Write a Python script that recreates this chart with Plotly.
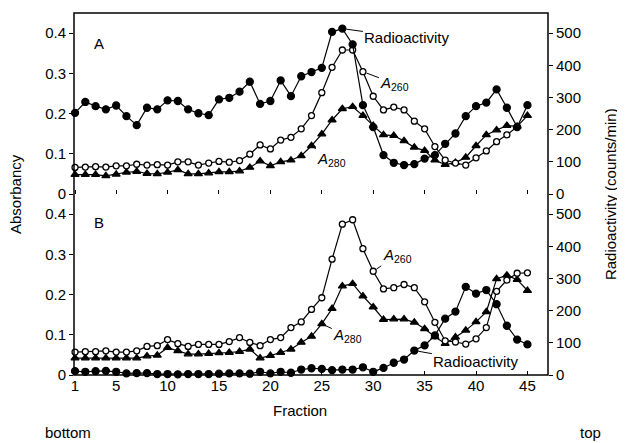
import plotly.graph_objects as go

fractions = list(range(1, 46))

# Panel A
a_radio = [252, 286, 273, 263, 275, 242, 214, 268, 263, 291, 289, 263, 251, 245, 294,
           299, 318, 349, 280, 289, 353, 304, 366, 379, 392, 504, 514, 465, 276, 208,
           121, 97, 90, 93, 110, 121, 156, 188, 242, 273, 284, 325, 268, 208, 276]
a_a260 = [0.066, 0.067, 0.068, 0.067, 0.070, 0.070, 0.074, 0.072, 0.073, 0.072, 0.080,
          0.080, 0.072, 0.077, 0.081, 0.079, 0.083, 0.099, 0.122, 0.112, 0.134, 0.141,
          0.162, 0.195, 0.252, 0.315, 0.358, 0.358, 0.304, 0.243, 0.209, 0.216, 0.209,
          0.181, 0.162, 0.118, 0.084, 0.077, 0.072, 0.090, 0.107, 0.130, 0.147, 0.167, None]
a_a280 = [0.048, 0.048, 0.048, 0.045, 0.049, 0.054, 0.056, 0.051, 0.050, 0.054, 0.060,
          0.050, 0.050, 0.052, 0.055, 0.055, 0.057, 0.066, 0.082, 0.070, 0.080, 0.084,
          0.095, 0.120, 0.149, 0.184, 0.212, 0.217, 0.195, 0.170, 0.147, 0.145, 0.132,
          0.116, 0.108, 0.084, 0.073, 0.078, 0.091, 0.120, 0.147, 0.159, 0.170, 0.168, 0.195]

# Panel B
b_radio = [12, 10, 12, 13, 10, 5, 6, 6, 3, 3, 2, 3, 3, 3, 4, 5, 5, 4, 10, 5, 10, 7,
           17, 21, 19, 15, 17, 17, 24, 10, 22, 38, 48, 76, 92, 123, 175, 197, 274, 253,
           264, 220, 153, 110, 95]
b_a260 = [0.057, 0.058, 0.058, 0.060, 0.057, 0.057, 0.060, 0.071, 0.073, 0.088, 0.078,
          0.071, 0.076, 0.076, 0.076, 0.083, 0.093, 0.081, 0.073, 0.088, 0.093, 0.118,
          0.132, 0.163, 0.192, 0.288, 0.375, 0.386, 0.314, 0.258, 0.214, 0.217, 0.225,
          0.217, 0.182, 0.131, 0.085, 0.082, 0.077, 0.090, 0.118, 0.208, 0.236, 0.253, 0.254]
b_a280 = [0.042, 0.042, 0.042, 0.042, 0.042, 0.042, 0.042, 0.047, 0.049, 0.068, 0.060,
          0.052, 0.052, 0.053, 0.055, 0.056, 0.058, 0.064, 0.042, 0.048, 0.056, 0.064,
          0.081, 0.096, 0.127, 0.165, 0.221, 0.227, 0.196, 0.169, 0.138, 0.139, 0.139,
          0.131, 0.115, 0.095, 0.078, 0.094, 0.111, 0.132, 0.157, 0.239, 0.248, 0.237, 0.210]

x_ticks = [1, 5, 10, 15, 20, 25, 30, 35, 40, 45]
abs_ticks = [0, 0.1, 0.2, 0.3, 0.4]
abs_ticktext = ["0", "0.1", "0.2", "0.3", "0.4"]
cpm_ticks = [0, 100, 200, 300, 400, 500]

FONT = "Liberation Sans"
LW = 1.2

def line_trace(y, xaxis, yaxis, symbol, filled, size):
    return go.Scatter(
        x=fractions, y=y, xaxis=xaxis, yaxis=yaxis, mode="lines+markers",
        line=dict(color="black", width=LW),
        marker=dict(symbol=symbol, size=size,
                    color="black" if filled else "white",
                    line=dict(color="black", width=1.3)),
        connectgaps=False, showlegend=False, cliponaxis=False)

fig = go.Figure()
# Panel A (top): x, y (abs) and y3 (cpm)
fig.add_trace(line_trace(a_a280, "x", "y", "triangle-up", True, 7))
fig.add_trace(line_trace(a_a260, "x", "y", "circle", False, 6))
fig.add_trace(line_trace(a_radio, "x", "y3", "circle", True, 7))
# Panel B (bottom): x2, y2 (abs) and y4 (cpm)
fig.add_trace(line_trace(b_a280, "x2", "y2", "triangle-up", True, 7))
fig.add_trace(line_trace(b_a260, "x2", "y2", "circle", False, 6))
fig.add_trace(line_trace(b_radio, "x2", "y4", "circle", True, 7))

tickfont = dict(family=FONT, size=15, color="black")
xr = [0.9, 47.0]
yr = [0, 0.45]
cr = [0, 562.5]

# page body adds an 8px offset; compensate in the margins
fig.update_layout(
    width=625, height=443,
    margin=dict(l=66, r=85, t=5, b=76),
    paper_bgcolor="white", plot_bgcolor="white",
    font=dict(family=FONT, size=15, color="black"),
    xaxis=dict(domain=[0, 1], anchor="y", range=xr, tickvals=x_ticks,
               showticklabels=False, ticks="inside", ticklen=4, tickcolor="black",
               showgrid=False, zeroline=False, showline=False),
    xaxis2=dict(domain=[0, 1], anchor="y2", range=xr, tickvals=x_ticks,
                tickfont=tickfont, ticks="inside", ticklen=4, tickcolor="black",
                showgrid=False, zeroline=False, showline=False),
    yaxis=dict(domain=[0.5, 1], anchor="x", range=yr, tickvals=abs_ticks,
               ticktext=abs_ticktext, tickfont=tickfont, ticks="outside", ticklen=4,
               tickcolor="black", showgrid=False, zeroline=False, showline=False),
    yaxis2=dict(domain=[0, 0.5], anchor="x2", range=yr, tickvals=abs_ticks,
                ticktext=abs_ticktext, tickfont=tickfont, ticks="outside", ticklen=4,
                tickcolor="black", showgrid=False, zeroline=False, showline=False),
    yaxis3=dict(overlaying="y", side="right", anchor="x", range=cr, tickvals=cpm_ticks,
                tickfont=tickfont, ticks="outside", ticklen=4, tickcolor="black",
                showgrid=False, zeroline=False, showline=False),
    yaxis4=dict(overlaying="y2", side="right", anchor="x2", range=cr, tickvals=cpm_ticks,
                tickfont=tickfont, ticks="outside", ticklen=4, tickcolor="black",
                showgrid=False, zeroline=False, showline=False),
    shapes=[dict(type="rect", xref="paper", yref="paper", x0=0, x1=1, y0=0, y1=1,
                 line=dict(color="black", width=1.5), fillcolor="rgba(0,0,0,0)")],
)

af = dict(family=FONT, size=15, color="black")
ann = []
# panel letters
ann.append(dict(xref="paper", yref="paper", x=0.053, y=0.915, text="A", showarrow=False,
                font=af, xanchor="center", yanchor="middle"))
ann.append(dict(xref="paper", yref="paper", x=0.053, y=0.42, text="B", showarrow=False,
                font=af, xanchor="center", yanchor="middle"))
# panel A curve labels
ann.append(dict(xref="x", yref="y3", x=27, y=a_radio[26], text="Radioactivity",
                showarrow=True, arrowhead=0, arrowwidth=1, arrowcolor="black",
                ax=65, ay=9, standoff=4, font=af))
ann.append(dict(xref="x", yref="y", x=29, y=a_a260[28], text="<i>A</i><sub>260</sub>",
                showarrow=True, arrowhead=0, arrowwidth=1, arrowcolor="black",
                ax=32, ay=12, standoff=4, font=af))
ann.append(dict(xref="x", yref="y", x=24, y=a_a280[23], text="<i>A</i><sub>280</sub>",
                showarrow=True, arrowhead=0, arrowwidth=1, arrowcolor="black",
                ax=20, ay=14, standoff=3, font=af))
# panel B curve labels
ann.append(dict(xref="x2", yref="y2", x=30, y=b_a260[29], text="<i>A</i><sub>260</sub>",
                showarrow=True, arrowhead=0, arrowwidth=1, arrowcolor="black",
                ax=24, ay=-16, standoff=4, font=af))
ann.append(dict(xref="x2", yref="y2", x=25, y=b_a280[24], text="<i>A</i><sub>280</sub>",
                showarrow=True, arrowhead=0, arrowwidth=1, arrowcolor="black",
                ax=26, ay=12, standoff=3, font=af))
ann.append(dict(xref="x2", yref="y4", x=34, y=b_radio[33], text="Radioactivity",
                showarrow=True, arrowhead=0, arrowwidth=1, arrowcolor="black",
                ax=62, ay=11, standoff=4, font=af))
# axis titles and notes
ann.append(dict(xref="paper", yref="paper", x=-0.1245, y=0.5, text="Absorbancy",
                textangle=-90, showarrow=False, font=af, xanchor="center", yanchor="middle"))
ann.append(dict(xref="paper", yref="paper", x=1.131, y=0.5, text="Radioactivity (counts/min)",
                textangle=-90, showarrow=False, font=af, xanchor="center", yanchor="middle"))
ann.append(dict(xref="paper", yref="paper", x=0.477, y=-0.098, text="Fraction",
                showarrow=False, font=af, xanchor="center", yanchor="middle"))
ann.append(dict(xref="paper", yref="paper", x=-0.065, y=-0.158, text="bottom",
                showarrow=False, font=af, xanchor="left", yanchor="middle"))
ann.append(dict(xref="paper", yref="paper", x=1.09, y=-0.158, text="top",
                showarrow=False, font=af, xanchor="center", yanchor="middle"))
fig.update_layout(annotations=ann)

fig.write_html("out.html")
